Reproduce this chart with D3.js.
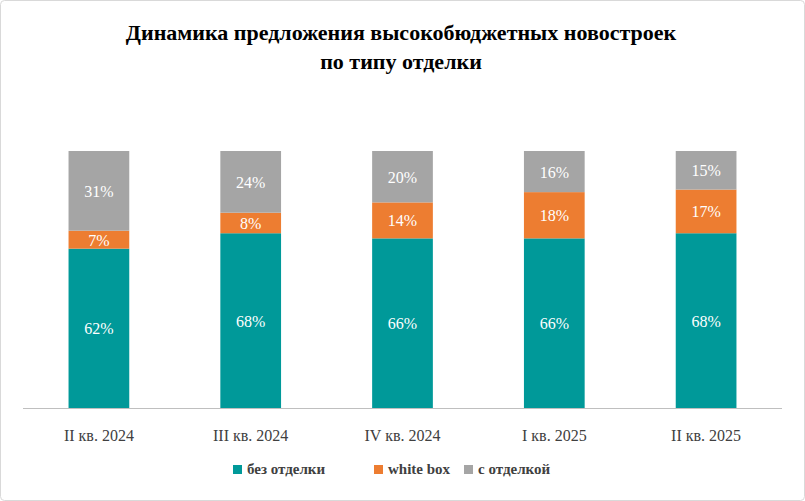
<!DOCTYPE html>
<html><head><meta charset="utf-8">
<script src="https://cdn.jsdelivr.net/npm/d3@7"></script>
<style>body{margin:0;background:#fff}</style>
</head><body>
<svg id="chart" width="805" height="501"></svg>
<script>
const categories = ["II кв. 2024", "III кв. 2024", "IV кв. 2024", "I кв. 2025", "II кв. 2025"];
const seriesNames = ["без отделки", "white box", "с отделкой"];
const bezOtdelki = [62, 68, 66, 66, 68];
const whiteBox = [7, 8, 14, 18, 17];
const sOtdelkoy = [31, 24, 20, 16, 15];
const colors = ["#009999", "#ED7D31", "#A5A5A5"];

const font = "'Liberation Serif', 'Times New Roman', serif";
const svg = d3.select("#chart").style("font-family", font);

svg.append("rect").attr("x", 0.5).attr("y", 0.5).attr("width", 804).attr("height", 500)
    .attr("rx", 4).attr("fill", "#fff").attr("stroke", "#d9d9d9");

// title
svg.append("text").attr("x", 401).attr("y", 40).attr("text-anchor", "middle")
    .style("font-size", "22px").style("font-weight", "bold")
    .text("Динамика предложения высокобюджетных новостроек");
svg.append("text").attr("x", 401).attr("y", 69).attr("text-anchor", "middle")
    .style("font-size", "22px").style("font-weight", "bold")
    .text("по типу отделки");

const data = categories.map((c, i) => ({ cat: c, "без отделки": bezOtdelki[i], "white box": whiteBox[i], "с отделкой": sOtdelkoy[i] }));
const stack = d3.stack().keys(seriesNames)(data);

const x = d3.scaleBand().domain(categories).range([23, 782]).paddingInner(0.6).paddingOuter(0.3);
const y = d3.scaleLinear().domain([0, 100]).range([408, 151]);

const groups = svg.selectAll("g.series").data(stack).enter().append("g")
    .attr("fill", (d, i) => colors[i]);
groups.selectAll("rect").data(d => d).enter().append("rect")
    .attr("x", d => x(d.data.cat))
    .attr("y", d => y(d[1]))
    .attr("width", x.bandwidth())
    .attr("height", d => y(d[0]) - y(d[1]));
groups.selectAll("text").data(d => d).enter().append("text")
    .attr("x", d => x(d.data.cat) + x.bandwidth() / 2)
    .attr("y", d => (y(d[0]) + y(d[1])) / 2 + 6)
    .attr("text-anchor", "middle").attr("fill", "#fff").style("font-size", "16px")
    .text(d => (d[1] - d[0]) + "%");

// x axis
svg.append("line").attr("x1", 23).attr("x2", 782).attr("y1", 408.5).attr("y2", 408.5).attr("stroke", "#bfbfbf");
svg.selectAll("text.cat").data(categories).enter().append("text")
    .attr("x", d => x(d) + x.bandwidth() / 2).attr("y", 441)
    .attr("text-anchor", "middle").style("font-size", "16px").attr("fill", "#404040")
    .text(d => d);

// legend
const legendX = [233, 374, 464];
const lg = svg.selectAll("g.leg").data(seriesNames).enter().append("g")
    .attr("transform", (d, i) => `translate(${legendX[i]},470)`);
lg.append("rect").attr("x", 0).attr("y", -5).attr("width", 9).attr("height", 9).attr("fill", (d, i) => colors[i]);
lg.append("text").attr("x", 14).attr("y", 4).style("font-size", "15px").style("font-weight", "bold")
    .attr("fill", "#404040").text(d => d);
</script>
</body></html>
